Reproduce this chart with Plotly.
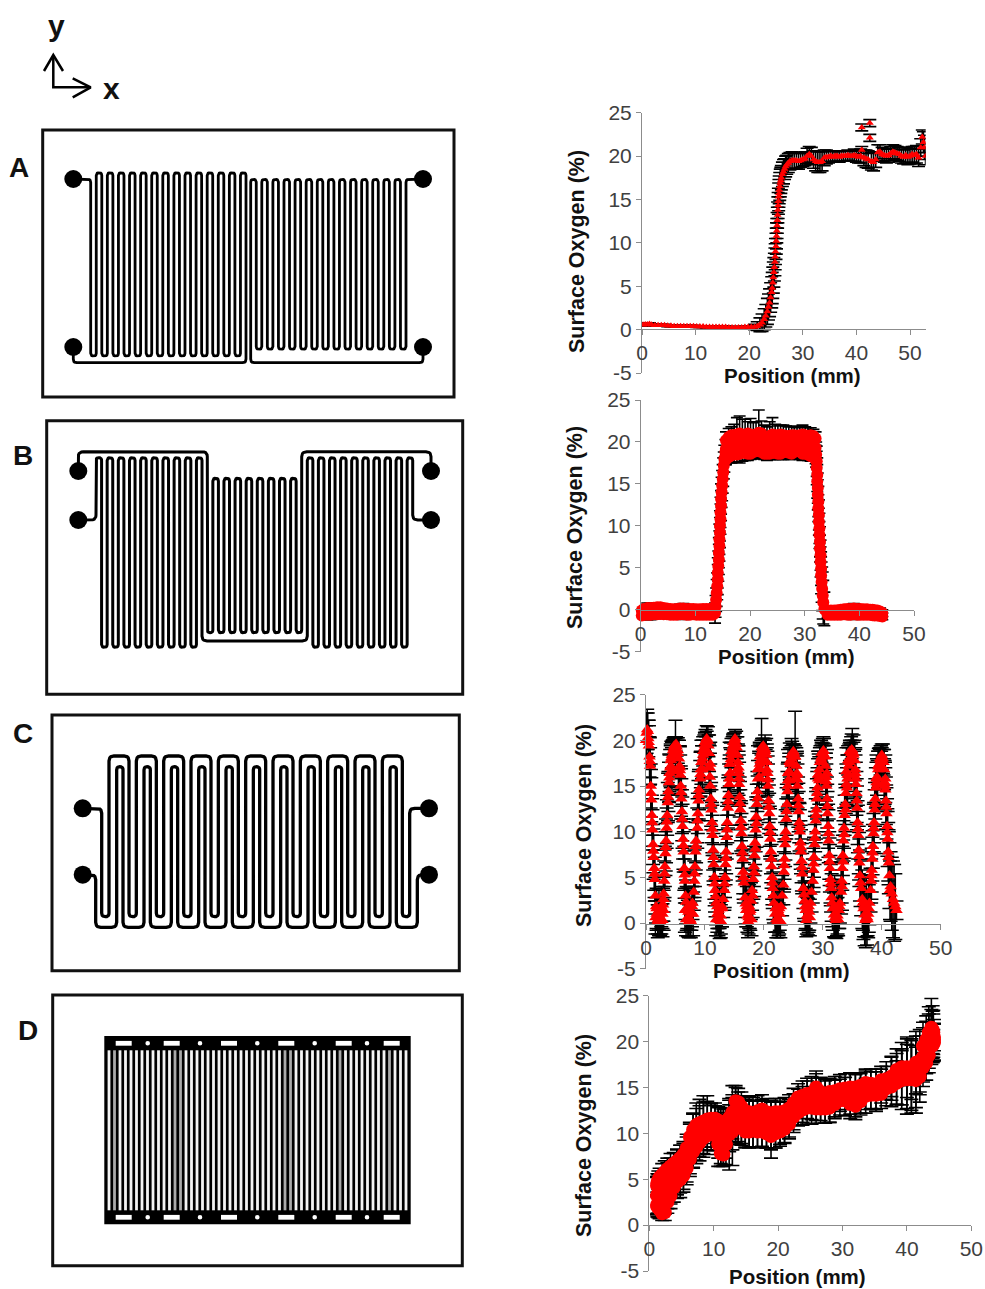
import numpy as np
import plotly.graph_objects as go

W, H = 985, 1289
RED = "#ff0000"

y_ticks = [-5, 0, 5, 10, 15, 20, 25]
y_tick_labels = ["-5", "0", "5", "10", "15", "20", "25"]
x_ticks = [0, 10, 20, 30, 40, 50]
x_tick_labels = ["0", "10", "20", "30", "40", "50"]
x_title = "Position (mm)"
y_title = "Surface Oxygen (%)"

# ---- Panel A: position, oxygen, error -------------------------------------
a_x = [0.2,0.6,1.0,1.4,1.8,2.4,3.0,3.6,4.2,4.8,5.4,6.0,6.6,7.2,7.8,8.4,9.0,9.6,10.2,10.8,11.4,12.0,12.6,13.2,13.8,
       14.4,15.0,15.6,16.2,16.8,17.4,18.0,18.6,19.2,19.8,20.4,21.0,21.5,22.0,22.4,22.8,23.1,23.4,23.6,23.8,24.0,24.2,
       24.3,24.4,24.5,24.6,24.7,24.8,24.85,24.9,25.0,25.05,25.1,25.15,25.2,25.25,25.3,25.35,25.4,25.45,25.5,25.55,
       25.6,25.7,25.8,25.9,26.0,26.2,26.4,26.6,26.8,27.0,27.3,27.6,28.0,28.4,28.8,29.2,29.6,30.0,30.4,30.8,31.2,31.6,
       32.0,32.4,32.8,33.2,33.6,34.0,34.4,34.8,35.2,35.6,36.0,36.4,36.8,37.2,37.6,38.0,38.4,38.8,39.2,39.6,40.0,40.4,
       40.8,41.0,41.0,41.4,41.8,42.2,42.5,42.5,42.8,43.2,43.6,44.0,44.4,44.8,45.2,45.6,46.0,46.4,46.8,47.2,47.6,48.0,
       48.4,48.8,49.2,49.6,50.0,50.4,50.8,51.2,51.6,52.0,52.3,52.5,52.7,52.9]
a_y = [0.55,0.6,0.6,0.65,0.55,0.5,0.5,0.5,0.5,0.45,0.45,0.4,0.4,0.4,0.4,0.4,0.4,0.4,0.35,0.35,0.35,0.3,0.3,0.3,0.3,
       0.3,0.3,0.3,0.25,0.25,0.25,0.25,0.25,0.3,0.3,0.3,0.3,0.4,0.55,0.8,1.2,1.6,2.1,2.6,3.1,3.7,4.3,
       4.8,5.4,6.0,6.6,7.2,7.8,8.4,9.0,9.6,10.2,10.8,11.4,12.0,12.6,13.2,13.8,14.3,14.8,15.3,15.7,
       16.1,16.5,16.9,17.2,17.5,17.9,18.2,18.5,18.8,19.0,19.2,19.4,19.5,19.5,19.5,19.4,19.5,19.6,19.7,20.0,20.2,20.0,
       19.6,19.4,19.3,19.3,19.4,19.8,19.9,19.9,20.0,19.9,20.0,20.0,19.9,20.0,20.0,20.0,20.1,20.0,20.0,20.1,20.0,19.9,
       20.0,20.7,23.3,19.8,19.7,19.6,23.8,22.1,19.4,19.3,19.6,20.4,20.5,20.2,20.1,20.0,20.1,20.3,20.5,20.4,20.3,20.2,
       20.0,19.9,20.1,19.9,20.0,20.2,20.1,20.2,19.8,21.0,22.2,21.6,21.0,20.0]
a_err = [0.15,0.15,0.15,0.15,0.12,0.1,0.1,0.1,0.1,0.1,0.1,0.1,0.1,0.1,0.1,0.1,0.1,0.1,0.1,0.1,0.1,0.1,0.1,0.1,0.1,
         0.1,0.1,0.1,0.1,0.1,0.1,0.1,0.1,0.1,0.1,0.15,0.3,0.5,0.8,1.0,1.2,1.3,1.5,1.5,1.6,1.7,1.8,
         1.8,1.8,1.8,1.7,1.6,1.6,1.5,1.5,1.5,1.5,1.5,1.4,1.5,1.5,1.5,1.5,1.5,1.5,1.6,1.6,
         1.6,1.6,1.6,1.5,1.4,1.4,1.4,1.2,1.2,1.1,1.1,1.0,1.0,0.9,0.9,0.9,0.8,0.8,0.8,0.9,0.9,1.0,
         1.0,1.1,1.2,1.2,1.1,0.9,0.8,0.7,0.6,0.6,0.6,0.6,0.6,0.6,0.6,0.6,0.6,0.6,0.6,0.7,0.7,0.7,
         0.8,0.4,0.4,0.9,1.0,1.0,0.4,0.4,1.0,1.0,0.9,0.9,0.8,0.8,0.8,0.8,0.8,0.8,0.8,0.8,0.8,0.8,
         0.8,0.8,0.9,0.9,0.9,0.9,1.0,1.0,1.0,1.0,0.8,1.2,1.4,1.0]

# ---- Panel B: low left, rise, plateau, fall, low right --------------------
b_lowl_x = [0.2,0.6,1.2,1.8,2.4,3.0,3.6,4.2,4.8,5.4,6.0,6.6,7.2,7.8,8.4,9.0,9.6,10.2,10.8,11.4,12.0,12.6,13.2]
b_lowl_hi = [-0.1,0.1,0.2,0.2,0.25,0.3,0.3,0.2,0.15,0.1,0.05,0.1,0.15,0.15,0.1,0.1,0.1,0.05,0.05,0.1,0.1,0.1,0.2]
b_lowl_lo = [-0.7,-0.6,-0.6,-0.6,-0.55,-0.55,-0.5,-0.55,-0.55,-0.6,-0.6,-0.6,-0.55,-0.55,-0.6,-0.6,-0.55,-0.6,-0.6,-0.6,-0.6,-0.6,-0.6]
b_lowl_err = [0.3,0.5,0.6,0.6,0.5,0.5,0.3,0.3,0.3,0.3,0.3,0.3,0.5,0.6,0.5,0.3,0.3,0.3,0.3,0.3,0.3,0.3,0.3]

b_rise_x = [13.6,13.7,13.8,13.9,14.0,14.1,14.1,14.2,14.3,14.3,14.4,14.4,14.5,14.5,14.6,14.6,14.7,14.7,14.8,14.9,15.0,15.1,15.2,15.3,15.5]
b_rise_y = [-0.4,0.4,1.2,2.0,2.8,3.6,4.4,5.2,6.0,6.8,7.6,8.4,9.2,10.0,10.8,11.6,12.4,13.2,14.0,14.8,15.6,16.4,17.2,18.0,18.8]
b_rise_err = [1.2,1.3,1.4,1.6,1.6,1.8,1.8,1.8,1.8,1.8,1.8,1.8,1.8,1.8,1.8,1.8,1.8,1.8,1.8,1.8,1.7,1.7,1.6,1.6,1.5]

b_top_x = [15.6,16.1,16.6,17.1,17.6,18.1,18.6,19.1,19.6,20.1,20.6,21.1,21.6,22.1,22.6,23.1,23.6,24.1,24.6,25.1,
           25.6,26.1,26.6,27.1,27.6,28.1,28.6,29.1,29.6,30.1,30.6,31.1,31.6,32.0]
b_top_hi = [20.2,20.6,20.8,20.8,20.9,21.0,20.9,20.8,21.0,20.9,20.7,20.9,21.1,21.0,20.6,20.3,20.7,20.9,20.8,20.8,
            20.9,20.8,20.7,20.7,20.8,20.8,20.7,20.8,20.9,20.8,20.6,20.8,20.7,20.4]
b_top_mid = [19.2,19.4,19.6,19.7,19.7,19.8,19.7,19.8,19.8,19.8,19.6,19.7,19.8,19.8,19.6,19.5,19.6,19.7,19.7,19.6,
             19.7,19.7,19.6,19.6,19.6,19.7,19.6,19.7,19.7,19.7,19.6,19.6,19.5,19.3]
b_top_lo = [17.9,18.2,18.4,18.5,18.5,18.6,18.7,18.7,18.6,18.6,18.8,18.9,18.9,18.8,18.6,18.6,18.6,18.7,18.7,18.6,
            18.6,18.8,18.9,18.7,18.6,18.8,19.0,18.9,18.6,18.6,18.5,18.3,18.2,17.9]
b_top_up = [1.0,1.0,1.0,1.3,2.0,2.1,1.8,1.9,1.4,1.9,1.6,1.5,2.7,1.5,1.4,1.5,1.7,2.0,1.3,1.1,1.1,1.2,1.2,1.1,1.1,1.0,1.0,1.0,1.1,1.0,1.1,0.9,0.8,0.8]
b_top_dn = [0.6,0.7,0.9,0.9,0.9,1.1,1.0,0.9,0.8,0.7,0.8,0.9,0.8,0.8,0.7,0.8,0.7,0.8,0.8,0.7,0.7,0.9,0.9,0.8,0.7,0.8,0.9,1.0,0.8,0.7,0.7,0.6,0.5,0.5]

b_fall_x = [32.1,32.2,32.2,32.3,32.3,32.4,32.4,32.5,32.5,32.6,32.6,32.7,32.7,32.8,32.8,32.9,32.9,33.0,33.0,33.1,33.2,33.3,33.4,33.6]
b_fall_y = [18.5,17.7,16.9,16.1,15.3,14.5,13.7,12.9,12.1,11.3,10.5,9.7,8.9,8.1,7.3,6.5,5.7,4.9,4.1,3.3,2.5,1.7,0.9,0.1]
b_fall_err = [1.5,1.8,2.0,2.0,2.0,1.8,1.8,1.8,1.6,1.8,1.6,1.8,1.6,1.8,1.6,1.8,1.8,2.0,2.2,2.4,2.6,2.8,2.6,2.0]

b_lowr_x = [34.2,34.8,35.4,36.0,36.6,37.2,37.8,38.4,39.0,39.6,40.2,40.8,41.4,42.0,42.4,42.8,43.3,43.8,44.2]
b_lowr_hi = [-0.1,-0.1,-0.1,-0.05,0.0,0.05,0.1,0.1,0.15,0.1,0.1,0.05,0.05,0.0,0.0,-0.05,-0.1,-0.2,-0.4]
b_lowr_lo = [-0.6,-0.6,-0.6,-0.6,-0.6,-0.55,-0.6,-0.6,-0.55,-0.6,-0.6,-0.6,-0.6,-0.6,-0.65,-0.7,-0.7,-0.75,-0.8]
b_lowr_err = [0.4,0.3,0.3,0.3,0.3,0.3,0.4,0.5,0.6,0.5,0.4,0.3,0.3,0.3,0.3,0.3,0.3,0.4,0.4]

# ---- Panel C: nine oscillations -------------------------------------------
c_x = [0.0,0.1,0.2,0.3,0.4,0.5,0.6,0.7,0.8,0.9,1.0,1.1,1.2,1.3,1.4,1.5,1.6,1.7,1.8,2.0,2.2,2.4,2.6,2.8,
       2.9,3.0,3.1,3.2,3.3,3.4,3.5,3.6,3.7,3.8,3.9,4.0,4.1,4.2,4.4,4.6,4.8,5.0,5.2,5.4,
       5.6,5.7,5.8,5.9,6.0,6.1,6.2,6.3,6.4,6.5,6.6,6.7,6.9,7.1,7.3,7.5,7.7,
       7.9,8.1,8.2,8.3,8.4,8.5,8.7,8.8,8.9,9.0,9.2,9.3,9.5,9.7,9.9,10.1,10.3,10.5,
       10.7,10.8,10.9,11.0,11.1,11.2,11.3,11.4,11.5,11.6,11.7,11.9,12.1,12.3,12.5,12.7,
       12.9,13.1,13.3,13.4,13.5,13.6,13.7,13.8,13.9,14.0,14.1,14.2,14.3,14.5,14.7,14.9,15.1,15.3,
       15.5,15.6,15.7,15.8,15.9,16.0,16.1,16.2,16.3,16.4,16.5,16.6,16.8,17.0,17.2,17.4,17.6,
       17.8,18.0,18.2,18.3,18.4,18.5,18.6,18.7,18.8,18.9,19.0,19.2,19.4,19.6,19.8,20.0,20.2,
       20.4,20.5,20.6,20.7,20.8,20.9,21.0,21.1,21.2,21.3,21.4,21.5,21.7,21.9,22.1,22.3,22.5,
       22.7,22.9,23.1,23.3,23.4,23.5,23.6,23.7,23.8,23.9,24.0,24.1,24.3,24.5,24.7,24.9,25.1,25.3,
       25.5,25.6,25.7,25.8,25.9,26.0,26.1,26.2,26.3,26.4,26.5,26.7,26.9,27.1,27.3,27.5,
       27.7,27.9,28.1,28.3,28.4,28.5,28.6,28.7,28.8,28.9,29.0,29.1,29.2,29.4,29.6,29.8,30.0,30.2,
       30.4,30.5,30.6,30.7,30.8,30.9,31.0,31.1,31.2,31.3,31.4,31.5,31.7,31.9,32.1,32.3,32.5,
       32.7,32.9,33.1,33.2,33.3,33.4,33.5,33.6,33.7,33.8,33.9,34.0,34.2,34.4,34.6,34.8,35.0,35.2,
       35.4,35.5,35.6,35.7,35.8,35.9,36.0,36.1,36.2,36.3,36.5,36.7,36.9,37.1,37.3,37.5,37.7,
       37.9,38.1,38.2,38.3,38.4,38.5,38.6,38.7,38.8,38.9,39.0,39.2,39.4,39.6,39.8,40.0,40.2,
       40.4,40.5,40.6,40.7,40.8,40.9,41.0,41.1,41.2,41.3,41.5,41.7,41.9,42.1,42.3,42.5]
c_y = [20.0,20.8,21.2,21.0,20.2,19.4,18.2,17.2,15.0,13.5,11.8,10.2,8.6,7.2,6.0,4.8,3.0,1.8,1.0,0.4,0.2,0.2,0.4,1.0,
       2.0,3.2,4.6,6.2,7.6,9.0,10.4,11.8,13.2,14.4,15.4,16.4,17.0,17.8,18.4,18.9,19.2,19.4,19.3,18.9,
       18.0,17.2,16.2,15.0,13.6,12.2,10.6,9.2,7.8,6.0,4.6,3.0,1.6,0.5,0.2,0.4,1.0,
       2.2,3.4,4.6,6.2,7.8,9.0,10.4,12.0,13.4,14.6,15.8,16.8,17.6,18.4,19.2,19.8,20.1,19.9,
       18.6,17.0,15.0,13.6,12.4,11.0,9.6,8.0,6.4,5.0,3.6,2.2,1.0,0.4,0.3,0.8,
       1.6,2.6,3.6,5.0,6.4,7.8,9.4,11.0,12.6,14.0,15.2,16.4,17.4,18.4,19.2,19.8,20.0,19.6,
       18.4,17.6,16.4,15.2,13.8,12.4,11.2,9.8,8.4,7.0,5.6,4.4,2.8,1.4,0.8,0.6,1.2,
       2.4,3.6,4.8,6.2,7.4,8.8,10.2,11.6,13.0,14.4,15.8,17.0,17.8,18.6,19.0,19.2,19.0,
       18.4,17.6,16.4,15.0,13.4,12.0,10.6,9.2,7.8,6.2,5.0,3.8,2.2,1.0,0.4,0.2,0.4,
       1.0,1.8,3.0,4.2,5.6,7.0,8.6,10.0,11.4,13.0,14.4,15.6,16.6,17.4,18.0,18.4,18.6,18.2,
       17.2,16.4,15.0,13.6,12.2,11.0,10.0,8.8,7.8,6.8,5.4,3.8,2.4,1.4,0.8,0.7,
       1.2,2.2,3.4,4.6,5.8,7.2,8.6,10.0,11.2,12.4,13.6,14.8,15.8,16.8,17.6,18.2,18.6,18.4,
       17.2,16.0,15.0,13.6,12.0,10.6,9.0,7.4,6.0,4.8,3.8,2.8,1.6,0.9,0.6,0.5,0.8,
       1.4,2.2,3.4,4.6,6.0,7.4,9.0,10.4,11.8,13.0,14.2,15.2,16.2,17.2,18.0,18.6,18.9,18.6,
       17.8,16.4,15.2,14.2,12.6,11.0,9.6,8.0,6.6,5.2,3.8,2.6,1.6,0.9,0.5,0.6,1.0,
       2.2,3.6,4.6,5.8,7.0,8.4,9.8,11.0,12.4,13.6,14.8,16.0,16.8,17.4,17.8,18.2,18.0,
       16.8,15.4,14.6,13.4,12.0,10.6,9.2,7.8,6.6,5.2,4.0,3.2,2.6,2.2,1.8,1.4]
c_err = [1.6,2.2,2.2,2.0,2.0,2.2,2.2,2.0,2.4,2.4,2.2,2.2,2.2,2.4,2.4,2.4,2.0,1.8,1.8,1.6,1.6,1.6,1.6,1.6,
         1.8,2.0,2.2,2.2,2.4,2.4,2.2,2.2,2.2,2.2,2.2,2.0,2.0,1.6,1.4,1.2,1.0,2.8,1.0,1.4,
         2.0,2.2,2.2,2.2,2.2,2.4,2.4,2.2,2.2,2.4,2.4,2.6,2.4,2.0,1.8,1.8,1.8,
         1.8,2.0,2.2,2.2,2.4,2.4,2.2,2.2,2.2,2.2,2.0,2.0,1.8,1.6,1.4,1.4,1.5,1.6,
         2.0,2.4,2.4,2.4,2.2,2.2,2.2,2.2,2.2,2.4,2.4,2.4,2.0,1.8,2.0,2.0,
         2.0,2.0,2.2,2.2,2.2,2.4,2.4,2.2,2.2,2.2,2.2,2.0,1.8,1.4,1.2,1.0,1.2,1.4,
         2.0,2.0,2.4,2.4,2.2,2.2,2.2,2.2,2.4,2.4,2.4,2.2,2.2,1.8,1.8,1.8,1.8,
         2.0,2.2,2.2,2.2,2.2,2.4,2.4,2.2,2.2,2.2,2.0,1.8,1.5,3.8,1.2,1.0,1.6,
         1.8,2.0,2.4,2.4,2.4,2.2,2.2,2.2,2.4,2.4,2.4,2.2,2.2,2.0,2.0,1.8,1.8,
         1.8,2.0,2.2,2.2,2.2,2.2,2.4,2.4,2.2,2.2,2.2,2.0,2.0,1.8,2.2,1.2,1.0,5.0,
         2.0,2.2,2.4,2.4,2.2,2.2,2.4,2.4,2.4,2.4,2.2,2.2,2.2,2.0,2.0,2.0,
         2.0,2.2,2.2,2.4,2.4,2.2,2.2,2.2,2.4,2.4,2.2,2.2,2.2,2.0,1.8,1.6,1.6,1.8,
         2.2,2.6,2.4,2.4,2.4,2.4,2.4,2.6,2.6,2.6,2.6,2.6,2.4,2.4,2.2,2.2,2.0,
         2.0,2.2,2.4,2.4,2.4,2.2,2.2,2.2,2.2,2.2,2.2,2.2,2.2,2.0,2.0,1.8,2.4,2.0,
         2.2,2.6,2.4,2.4,2.4,2.4,2.6,2.6,2.6,2.8,3.0,3.2,3.4,3.4,3.2,3.0,2.6,
         2.4,2.4,2.4,2.4,2.4,2.4,2.2,2.2,2.2,2.2,2.2,2.0,2.0,1.8,1.6,1.4,1.6,
         2.2,2.4,2.4,2.6,2.8,3.0,3.0,3.2,3.4,3.6,3.8,4.0,4.2,4.2,3.6,1.0]

# second pass over the same channel: readings between those above, in the troughs and on the crests
c2_x = [0.45,0.65,0.85,1.05,1.25,1.45, 1.6,1.8,2.0,2.2,2.4,2.6,2.8,3.0,
        2.95,3.15,3.35,3.55,3.75,3.95,4.3,4.7, 5.75,5.95,6.15,6.35,6.55,6.8,
        6.6,6.8,7.0,7.2,7.4,7.6,7.8,8.0, 8.25,8.45,8.75,8.95,9.25,9.6,10.0,
        10.85,11.05,11.25,11.45,11.65,11.8, 11.9,12.1,12.3,12.5,12.7,12.9,
        13.35,13.55,13.75,13.95,14.15,14.4,14.8, 15.75,15.95,16.15,16.35,16.55,16.9,
        17.1,17.3,17.5,17.7,17.9,18.1, 18.35,18.55,18.75,18.95,19.3,19.7,
        20.65,20.85,21.05,21.25,21.45,21.6, 22.0,22.2,22.4,22.6,22.8,
        23.45,23.65,23.85,24.05,24.4,24.8, 25.65,25.85,26.05,26.25,26.45,26.8,
        27.0,27.2,27.4,27.6,27.8, 28.45,28.65,28.85,29.05,29.3,29.7,30.1,
        30.55,30.75,30.95,31.15,31.35,31.6, 32.0,32.2,32.4,32.6,32.8,
        33.25,33.45,33.65,33.85,34.1,34.5,34.9, 35.55,35.75,35.95,36.15,36.4,36.8,
        37.0,37.2,37.4,37.6,37.8, 38.25,38.45,38.65,38.85,39.1,39.5,39.9,
        40.55,40.75,40.95,41.15,41.4,
        4.2,4.5,4.8,5.1,5.4,5.7,4.4,5.0,5.5, 9.4,9.7,10.0,10.3,10.6,10.9,9.6,10.2,10.7,
        14.2,14.5,14.8,15.1,15.4,15.7,14.4,15.0,15.5, 19.0,19.3,19.6,19.9,20.2,20.5,19.2,19.8,20.3,
        24.1,24.4,24.7,25.0,25.3,25.6,24.3,24.9,25.4, 29.2,29.5,29.8,30.1,30.4,30.7,29.4,30.0,30.5,
        34.0,34.3,34.6,34.9,35.2,35.5,34.2,34.8,35.3, 39.1,39.4,39.7,40.0,40.3,40.6,39.3,39.9,40.4]
c2_y = [19.8,17.7,14.2,11.0,7.9,5.4, 0.6,1.6,0.2,1.4,0.6,1.8,0.3,1.4,
        2.6,5.4,8.3,11.1,13.8,15.9,18.1,19.1, 16.7,14.3,11.4,8.5,5.3,2.3,
        1.4,0.4,1.6,1.2,1.4,0.2,1.8,1.0, 5.4,8.4,11.2,14.0,16.3,18.0,19.5,
        16.0,13.0,10.3,7.2,4.3,2.9, 0.4,1.8,1.4,1.6,0.2,1.8,
        4.3,7.1,10.2,13.3,15.8,17.9,19.5, 15.8,13.1,10.5,7.7,5.0,2.1,
        1.8,0.2,1.8,1.4,0.4,3.0, 5.5,8.1,10.9,13.7,17.4,18.8,
        15.7,12.7,9.9,7.0,4.4,3.0, 1.6,1.8,1.4,1.6,0.2,
        6.3,9.3,12.2,15.0,17.7,18.5, 15.7,12.9,10.5,8.3,6.1,3.1,
        1.8,0.3,1.6,1.8,0.6, 6.5,9.3,11.8,14.2,16.3,18.0,18.8,
        15.5,12.8,9.8,6.7,4.3,2.2, 1.8,0.3,1.6,0.4,1.8,
        4.0,6.7,9.7,12.4,14.8,17.6,18.7, 15.8,13.4,10.3,7.3,4.4,2.2,
        1.9,0.3,1.7,0.4,1.6, 5.2,7.7,10.4,13.0,15.4,17.1,18.0,
        15.0,12.7,9.9,7.2,3.6,
        17.2,18.4,19.4,19.6,18.6,17.0,16.6,18.4,16.8, 17.6,18.8,19.8,20.2,19.4,17.4,16.8,18.6,17.0,
        17.4,18.8,19.8,20.2,19.2,17.0,16.4,18.6,16.8, 16.8,18.2,19.2,19.4,18.8,16.8,16.0,18.0,16.4,
        16.4,17.6,18.4,18.8,18.2,16.2,15.6,17.4,15.8, 16.2,17.6,18.6,18.9,18.2,16.4,15.6,17.6,16.0,
        16.6,17.8,18.8,19.0,18.4,16.8,15.8,17.8,16.2, 15.8,17.2,18.0,18.4,17.6,15.8,15.2,17.0,15.4]
c2_err = [2.4,2.6,2.6,2.6,2.4,2.6, 1.8,2.2,1.8,2.2,1.8,2.2,1.8,2.2,
          2.4,2.6,2.6,2.4,2.6,2.6,1.8,1.2, 2.6,2.6,2.4,2.6,2.6,2.4,
          2.4,1.8,2.2,2.6,2.2,1.8,2.2,2.4, 2.6,2.6,2.4,2.6,2.4,2.0,1.4,
          2.6,2.4,2.6,2.6,2.4,2.2, 1.8,2.4,2.0,2.2,1.8,2.2,
          2.6,2.4,2.6,2.6,2.2,1.8,1.2, 2.6,2.4,2.6,2.6,2.4,2.2,
          2.2,1.8,2.4,2.2,1.8,2.4, 2.6,2.4,2.6,2.4,2.2,1.4,
          2.6,2.4,2.6,2.6,2.4,2.6, 2.6,2.8,2.4,2.8,1.8,
          2.6,2.4,2.6,2.4,2.0,1.4, 2.6,2.4,2.6,2.4,2.6,2.6,
          2.6,1.8,2.4,2.8,2.0, 2.6,2.4,2.6,2.4,2.2,2.0,1.6,
          2.6,2.4,2.6,2.6,2.4,2.6, 3.4,1.8,3.0,1.8,2.4,
          2.6,2.4,2.6,2.4,2.2,2.0,2.0, 2.6,2.4,2.6,2.6,2.6,3.0,
          3.4,1.8,3.2,1.8,2.6, 2.6,2.4,2.6,2.4,2.2,2.0,1.4,
          2.6,2.4,2.6,3.0,3.2,
          2.4,1.6,1.0,0.8,1.4,2.4,2.6,1.8,2.6, 2.4,1.6,1.0,0.8,1.2,2.4,2.6,1.8,2.6,
          2.4,1.4,0.8,0.6,1.2,2.4,2.6,1.6,2.6, 2.6,1.6,0.8,0.8,1.2,2.4,2.6,1.6,2.6,
          2.6,1.6,1.0,0.8,1.2,2.6,2.6,1.8,2.6, 2.6,1.6,1.0,0.8,1.4,2.6,2.6,1.8,2.6,
          2.6,1.6,1.0,1.0,1.4,2.4,2.6,1.8,2.6, 2.6,1.6,1.0,0.8,1.4,2.6,2.6,1.8,2.6]

# ---- Panel D: upper, middle and lower readings along the band -------------
d_x = [1.2,1.25,1.4,1.6,2.0,2.4,2.8,3.3,3.8,4.3,4.8,5.3,5.8,6.3,6.8,7.3,7.8,8.4,9.0,9.6,10.2,10.7,11.1,11.5,11.9,
       12.4,12.9,13.4,13.8,14.3,14.9,15.5,16.1,16.8,17.5,18.2,18.9,19.6,20.3,21.0,21.7,22.4,23.1,23.8,24.5,25.2,25.9,
       26.6,27.3,28.0,28.8,29.6,30.4,31.2,32.0,32.8,33.6,34.4,35.2,36.0,36.8,37.6,38.4,39.2,40.0,40.7,41.4,42.0,42.5,
       43.0,43.4,43.8,44.0,44.1,44.2]
d_hi = [4.3,4.6,4.9,5.2,5.5,5.8,6.1,6.4,6.7,7.0,7.3,7.7,8.4,9.6,10.4,10.9,11.1,11.3,11.5,11.6,11.6,11.4,11.2,11.0,11.2,
        11.7,12.3,13.5,13.4,12.9,12.4,12.3,12.2,12.4,12.6,12.3,12.2,12.3,12.3,12.4,12.7,13.3,13.9,14.1,14.3,14.4,15.0,
        14.5,14.3,14.5,14.6,14.8,14.9,15.0,15.0,15.2,15.5,15.4,15.3,15.8,15.9,16.2,16.9,17.2,17.2,16.9,17.7,17.9,19.5,
        20.2,21.0,21.5,21.3,21.0,20.5]
d_mid = [3.2,3.3,3.4,3.4,3.4,3.6,4.3,4.8,5.4,5.8,6.1,6.5,7.3,8.4,9.2,9.7,10.0,10.4,10.6,10.7,10.7,10.1,9.5,9.3,10.0,
         10.8,11.2,12.0,12.0,11.7,11.3,11.2,11.2,11.3,11.4,11.1,10.9,11.1,11.2,11.4,11.8,12.5,13.1,13.3,13.5,13.6,13.8,
         13.6,13.5,13.6,13.9,14.2,14.2,14.1,14.0,14.3,14.8,14.8,14.7,15.0,15.4,15.6,16.2,16.5,16.5,16.4,16.7,17.0,18.3,
         19.0,19.8,20.5,20.5,20.4,20.2]
d_lo = [2.2,2.0,1.9,1.7,1.3,1.4,2.5,3.2,4.1,4.7,5.0,5.4,6.2,7.2,8.0,8.5,9.0,9.5,9.8,9.9,9.8,8.8,7.8,7.7,8.8,
        9.9,10.2,10.6,10.7,10.6,10.2,10.2,10.3,10.2,10.2,10.0,9.7,10.0,10.2,10.5,11.0,11.8,12.3,12.6,12.8,12.8,12.7,
        12.7,12.7,12.8,13.2,13.6,13.6,13.2,13.0,13.5,14.1,14.2,14.2,14.3,14.9,15.1,15.5,15.8,15.9,15.9,15.8,16.2,17.2,
        17.7,18.5,19.5,19.6,19.8,19.9]
d_err_up = [1.0,1.0,1.0,1.0,1.2,1.2,1.2,1.4,1.2,1.2,1.4,1.2,1.2,1.4,1.8,2.4,2.6,2.8,2.6,1.6,1.4,1.4,1.6,1.6,1.4,
            1.4,2.9,1.7,1.1,1.0,1.3,1.3,1.3,1.2,1.1,1.2,1.2,1.2,1.1,1.1,1.0,1.0,0.9,1.0,1.4,1.6,1.8,
            1.5,1.4,1.3,1.2,1.1,1.2,1.6,1.4,1.3,1.3,1.3,1.4,1.2,1.4,2.2,1.8,2.0,3.3,3.2,3.4,3.4,2.6,
            2.6,2.8,3.2,2.6,2.4,1.5]
d_err_dn = [1.1,1.1,1.1,1.0,0.8,0.9,1.2,1.4,1.6,1.8,2.0,1.8,1.8,1.9,1.8,1.4,1.5,1.7,1.6,1.4,1.6,2.4,1.4,1.3,2.2,
            3.9,3.7,1.8,1.9,1.9,1.8,1.7,1.8,1.8,1.7,1.6,2.4,1.6,1.4,1.5,1.4,1.4,1.4,1.4,1.2,1.3,1.3,
            1.3,1.6,1.6,1.4,1.2,1.0,1.1,1.2,1.3,1.9,1.5,1.6,1.0,1.2,1.5,2.4,3.2,3.8,3.7,3.6,2.0,1.6,
            1.2,1.4,1.6,1.4,1.5,2.0]
d_err_mid = [2.0,2.0,2.1,2.2,2.4,2.4,2.5,2.5,2.4,2.5,2.6,2.6,2.6,2.8,2.9,3.0,3.0,3.0,2.9,2.6,2.6,2.8,2.8,2.8,2.7,
             2.8,3.0,3.0,2.9,2.8,2.8,2.8,2.7,2.8,2.8,2.7,2.7,2.7,2.6,2.5,2.4,2.4,2.3,2.4,2.5,2.6,2.7,
             2.5,2.4,2.4,2.3,2.2,2.3,2.5,2.5,2.3,2.2,2.2,2.3,2.3,2.4,2.7,3.0,3.4,3.8,3.9,3.9,3.6,3.2,
             3.2,3.2,3.0,2.8,2.6,2.2]

# ---- Microfluidic schematics, page pixels ---------------------------------
panel_letters = ["A", "B", "C", "D"]
letter_x = [19, 23, 23, 28]
letter_y = [168, 455, 733, 1030]
box_x0 = [42.7, 46.7, 52, 52.7]
box_x1 = [454, 462.7, 459.3, 462.3]
box_y0 = [130, 420.7, 715, 995]
box_y1 = [397, 694.3, 970.7, 1265.7]
port_x = [73.3, 423, 73.3, 423, 78.3, 431, 78.3, 431, 82.7, 429, 82.7, 429]
port_y = [179, 179, 347, 347, 471, 471, 520, 520, 808.3, 808.3, 874.7, 874.7]

d_slot_centres = [123.7, 171.7, 229, 286.3, 343.7, 391.7]
d_dot_centres = [147.7, 200, 257.3, 314.7, 367]
d_row_y = [1043.3, 1217.3]
d_stripe_count = 55
d_grey_stripes = [1, 12, 13, 32, 33, 42, 51]


def rounded(pts, r, n=6):
    pts = [np.array(p, float) for p in pts]
    out = [pts[0]]
    for a, b, c in zip(pts, pts[1:], pts[2:]):
        d1, d2 = np.linalg.norm(a - b), np.linalg.norm(c - b)
        t = min(r, d1 / 2, d2 / 2)
        p, q = b + (a - b) * t / d1, b + (c - b) * t / d2
        for s in np.linspace(0, 1, n):
            out.append((1 - s) ** 2 * p + 2 * s * (1 - s) * b + s ** 2 * q)
    out.append(pts[-1])
    arr = np.array(out)
    return arr[:, 0], arr[:, 1]


def hairpins(xs, y_first, y_other):
    pts, y = [], y_first
    for a, b in zip(xs, xs[1:]):
        pts += [(a, y), (b, y)]
        y = y_other if y == y_first else y_first
    return pts


def even(a, b, n):
    return list(np.linspace(a, b, n))


channels = [
    # A
    ([(73.3, 179), (90.7, 179)] + hairpins(even(90.7, 246, 29), 356, 172.7)
     + [(246, 362.7), (73.3, 362.7), (73.3, 347)], 3.5, 2.8),
    ([(423, 179), (406, 179)] + hairpins(even(406, 250.7, 29), 349.3, 179.3)
     + [(250.7, 362.7), (423, 362.7), (423, 347)], 3.5, 2.8),
    # B
    ([(78.3, 520), (96, 520)] + hairpins(even(96, 202, 20), 457.7, 647.3) + [(202, 641), (307.3, 641)]
     + hairpins(even(307.3, 412.7, 20), 457.7, 647.3) + [(412.7, 520), (431, 520)], 5, 3.0),
    ([(78.3, 471), (78.3, 451.7), (207.3, 451.7)] + hairpins(even(207.3, 301.7, 18), 632.7, 478.3)
     + [(301.7, 451.7), (431, 451.7), (431, 471)], 5, 3.0),
]
c1 = [v for k in range(12) for v in ((305 + 82 * k) / 3, (327 + 82 * k) / 3)]
c2 = [v for k in range(12) for v in ((287 + 82 * k) / 3, (350 + 82 * k) / 3)]
channels += [
    ([(82.7, 808.3), (101.7, 808.3)] + hairpins(c1, 916.7, 756) + [(c1[-1], 808.3), (429, 808.3)], 5, 3.3),
    ([(82.7, 874.7), (95.7, 874.7)] + hairpins(c2, 927.3, 766.7) + [(c2[-1], 874.7), (429, 874.7)], 5, 3.3),
]

fig = go.Figure()


def fx(p):
    return p / W


def fy(p):
    return 1 - p / H


# (suffix, x px at 0, x px at range end, x range end, y px at 25, y px at -5, y px at 0)
axes = [
    ("", 642, 925.7, 52.93, 112.7, 373, 329),
    ("2", 640.7, 914, 50, 400, 651.7, 609.7),
    ("3", 646, 940.7, 50, 694.7, 968.7, 924),
    ("4", 649.3, 971.3, 50, 995.7, 1271, 1225),
]
layout = {}
GREY = "#8c8c8c"
TICK = dict(family="Liberation Sans, Arial, sans-serif", size=21, color="#404040")
for s, x0, x1, xmax, ytop, ybot, yzero in axes:
    layout["xaxis" + s] = dict(domain=[fx(x0), fx(x1)], range=[0, xmax], anchor="free", position=fy(yzero),
                               tickvals=x_ticks, ticktext=x_tick_labels, ticks="outside", ticklen=5,
                               tickcolor=GREY, showline=True, linecolor=GREY, linewidth=1, showgrid=False,
                               zeroline=False, tickfont=TICK, ticklabelstandoff=0)
    layout["yaxis" + s] = dict(domain=[fy(ybot), fy(ytop)], range=[-5, 25], anchor="x" + s,
                               tickvals=y_ticks, ticktext=y_tick_labels, ticks="outside", ticklen=5,
                               tickcolor=GREY, showline=True, linecolor=GREY, linewidth=1, showgrid=False,
                               zeroline=False, tickfont=TICK)
layout["xaxis5"] = dict(domain=[0, 1], range=[0, W], visible=False, anchor="y5")
layout["yaxis5"] = dict(domain=[0, 1], range=[H, 0], visible=False, anchor="x5")


def bars(s, x, y, err, width=6.5, thick=1.6, clip=True):
    fig.add_trace(go.Scatter(x=x, y=y, mode="markers", marker=dict(size=1, color="black"), cliponaxis=clip,
                             error_y=dict(type="data", array=err, visible=True, color="black",
                                          thickness=thick, width=width),
                             xaxis="x" + s, yaxis="y" + s, showlegend=False, hoverinfo="skip"))


def dots(s, x, y, size, symbol, clip=False):
    fig.add_trace(go.Scatter(x=x, y=y, mode="markers", cliponaxis=clip,
                             marker=dict(size=size, color=RED, symbol=symbol, line=dict(width=0)),
                             xaxis="x" + s, yaxis="y" + s, showlegend=False))


# Panel A
bars("", a_x, a_y, a_err)
dots("", a_x, a_y, 7, "triangle-up", clip=True)

# Panel B
b_series = [(b_lowl_x, b_lowl_hi, b_lowl_err), (b_lowl_x, b_lowl_lo, b_lowl_err),
            (b_rise_x, b_rise_y, b_rise_err),
            (b_top_x, b_top_hi, b_top_up), (b_top_x, b_top_lo, b_top_dn),
            (b_fall_x, b_fall_y, b_fall_err),
            (b_lowr_x, b_lowr_hi, b_lowr_err), (b_lowr_x, b_lowr_lo, b_lowr_err)]
for x, y, e in b_series:
    bars("2", x, y, e, width=6, clip=False)
for x, y, e in b_series:
    dots("2", x, y, 12, "circle")
dots("2", b_top_x, b_top_mid, 12, "circle")

# Panel C
bars("3", c_x, c_y, c_err, width=7, thick=1.5, clip=False)
bars("3", c2_x, c2_y, c2_err, width=7, thick=1.5, clip=False)
dots("3", c_x, c_y, 11, "triangle-up")
dots("3", c2_x, c2_y, 11, "triangle-up")

# Panel D
bars("4", d_x, d_hi, d_err_up, width=7, clip=False)
bars("4", d_x, d_lo, d_err_dn, width=7, clip=False)
bars("4", d_x, d_mid, d_err_mid, width=7, clip=False)
for row in (d_hi, d_mid, d_lo):
    dots("4", d_x, row, 14, "circle")

# Schematics
for pts, r, lw in channels:
    xs, ys = rounded(pts, r)
    fig.add_trace(go.Scatter(x=xs, y=ys, mode="lines", line=dict(color="black", width=lw),
                             xaxis="x5", yaxis="y5", showlegend=False, hoverinfo="skip"))
fig.add_trace(go.Scatter(x=port_x, y=port_y, mode="markers", marker=dict(size=18, color="black"),
                         xaxis="x5", yaxis="y5", showlegend=False, hoverinfo="skip"))
for px_, py_ in [([53.3, 53.3, 90.7], [55, 87.3, 87.3]), ([44, 53.3, 63], [71, 55, 71]),
                 ([72.7, 90.7, 72.7], [78.3, 87.3, 97.3])]:
    fig.add_trace(go.Scatter(x=px_, y=py_, mode="lines", line=dict(color="black", width=2.5),
                             xaxis="x5", yaxis="y5", showlegend=False, hoverinfo="skip"))

shapes = []
for x0, x1, y0, y1 in zip(box_x0, box_x1, box_y0, box_y1):
    shapes.append(dict(type="rect", xref="x5", yref="y5", x0=x0, x1=x1, y0=y0, y1=y1,
                       line=dict(color="#111111", width=3), layer="below"))
shapes.append(dict(type="rect", xref="x5", yref="y5", x0=104.3, x1=410.7, y0=1036, y1=1224.3,
                   fillcolor="black", line=dict(width=0), layer="above"))
for i, sx in enumerate(np.linspace(109, 406, d_stripe_count)):
    colour = "#aaaaaa" if i in d_grey_stripes else "#f4f4f4"
    shapes.append(dict(type="rect", xref="x5", yref="y5", x0=sx - 1.4, x1=sx + 1.4, y0=1050.3, y1=1210.3,
                       fillcolor=colour, line=dict(width=0), layer="above"))
for yc in d_row_y:
    for xc in d_slot_centres:
        shapes.append(dict(type="rect", xref="x5", yref="y5", x0=xc - 8, x1=xc + 8, y0=yc - 2.4, y1=yc + 2.4,
                           fillcolor="white", line=dict(width=0), layer="above"))
    for xc in d_dot_centres:
        shapes.append(dict(type="circle", xref="x5", yref="y5", x0=xc - 2.3, x1=xc + 2.3, y0=yc - 2.3, y1=yc + 2.3,
                           fillcolor="white", line=dict(width=0), layer="above"))

BOLD = "Liberation Sans, Arial, sans-serif"
ann = []


def label(text, x, y, size, color="#111111", angle=0, bold=True):
    ann.append(dict(text="<b>%s</b>" % text if bold else text, x=fx(x), y=fy(y), xref="paper", yref="paper",
                    showarrow=False, xanchor="center", yanchor="middle", textangle=angle,
                    font=dict(family=BOLD, size=size, color=color)))


for t, x, y in zip(panel_letters, letter_x, letter_y):
    label(t, x, y, 28)
label("y", 56, 25, 30)
label("x", 111, 89, 30)
for x, y in [(792, 375.5), (786.7, 656), (781.7, 970), (797.3, 1276.5)]:
    label(x_title, x, y, 20.5)
for x, y in [(577, 252), (575, 528), (584, 826), (584, 1136)]:
    label(y_title, x, y, 21.5, angle=-90)

fig.update_layout(width=W, height=H, margin=dict(l=0, r=0, t=0, b=0, autoexpand=False), paper_bgcolor="white",
                  plot_bgcolor="rgba(0,0,0,0)", showlegend=False, shapes=shapes, annotations=ann, **layout)
fig.write_html("out.html", config={"displayModeBar": False},
               post_script="document.body.style.margin='0';document.body.style.overflow='hidden';")
